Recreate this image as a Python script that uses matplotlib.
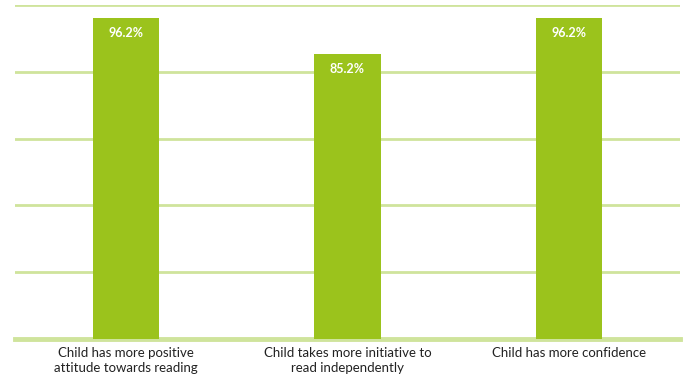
import matplotlib
matplotlib.use('Agg')
import matplotlib.pyplot as plt

# --- Data ---
categories = ['Child has more positive\nattitude towards reading',
              'Child takes more initiative to\nread independently',
              'Child has more confidence']
values = [96.2, 85.2, 96.2]
value_labels = ['96.2%', '85.2%', '96.2%']

BAR_COLOR = '#9bc31c'
GRID_COLOR = '#cfe49c'

plt.rcParams['font.family'] = ['Lato', 'DejaVu Sans']

fig = plt.figure(figsize=(6.86, 3.77), dpi=100)
ax = fig.add_axes([15 / 686, 38 / 377, 665 / 686, 334 / 377])

x = range(len(categories))
ax.bar(x, values, width=0.30, color=BAR_COLOR, zorder=3)

# value labels inside bars, near the top
for i, (v, lab) in enumerate(zip(values, value_labels)):
    ax.text(i, v - 4.5, lab, ha='center', va='center', color='white',
            fontsize=9, fontweight='bold', zorder=4)

ax.set_xlim(-0.5, 2.5)
ax.set_ylim(0, 100)
ax.set_yticks([20, 40, 60, 80, 100])
ax.yaxis.grid(True, color=GRID_COLOR, linewidth=2, zorder=0)
ax.axhline(0, color=GRID_COLOR, linewidth=3.5, zorder=2, clip_on=False)

ax.set_xticks(list(x))
ax.set_xticklabels(categories, fontsize=9.5, color='#222222', linespacing=1.25)
ax.tick_params(axis='x', length=0, pad=6)
ax.tick_params(axis='y', length=0, labelleft=False)

for s in ax.spines.values():
    s.set_visible(False)

fig.savefig('out.png', dpi=100)
plt.close()
